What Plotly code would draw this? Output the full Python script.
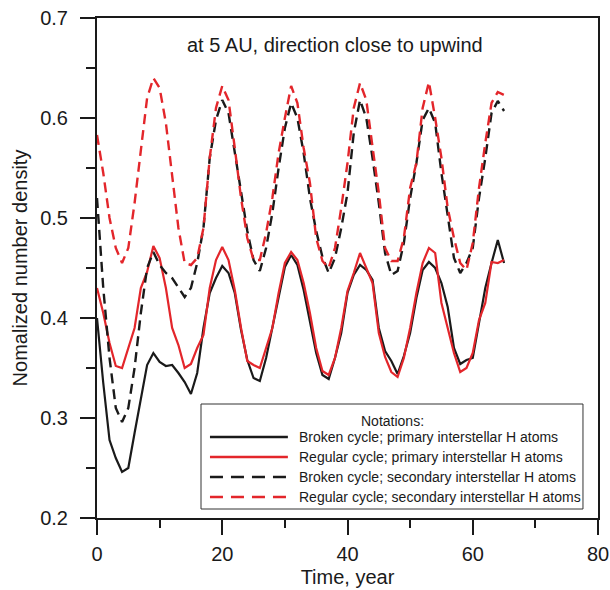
import plotly.graph_objects as go

years = list(range(0, 66))

broken_primary = [0.400, 0.335, 0.278, 0.260, 0.246, 0.250, 0.285, 0.320, 0.353, 0.365,
                  0.356, 0.352, 0.353, 0.345, 0.336, 0.324, 0.345, 0.390, 0.425, 0.440,
                  0.452, 0.445, 0.425, 0.388, 0.358, 0.340, 0.337, 0.360, 0.390, 0.420,
                  0.451, 0.463, 0.453, 0.428, 0.398, 0.365, 0.343, 0.339, 0.360, 0.385,
                  0.425, 0.443, 0.453, 0.448, 0.438, 0.390, 0.367, 0.357, 0.344, 0.362,
                  0.385, 0.420, 0.448, 0.456, 0.450, 0.435, 0.411, 0.370, 0.354, 0.358,
                  0.360, 0.395, 0.430, 0.455, 0.478, 0.455]

regular_primary = [0.430, 0.405, 0.375, 0.352, 0.350, 0.370, 0.390, 0.430, 0.446, 0.472,
                   0.460, 0.430, 0.390, 0.373, 0.350, 0.354, 0.370, 0.383, 0.430, 0.458,
                   0.471, 0.458, 0.428, 0.390, 0.357, 0.353, 0.350, 0.370, 0.390, 0.425,
                   0.455, 0.466, 0.458, 0.435, 0.405, 0.370, 0.347, 0.343, 0.360, 0.390,
                   0.427, 0.445, 0.465, 0.450, 0.435, 0.385, 0.361, 0.346, 0.341, 0.360,
                   0.390, 0.425, 0.455, 0.470, 0.465, 0.415, 0.390, 0.365, 0.346, 0.350,
                   0.365, 0.398, 0.415, 0.456, 0.455, 0.458]

broken_secondary = [0.520, 0.430, 0.360, 0.310, 0.296, 0.310, 0.350, 0.405, 0.450, 0.466,
                    0.453, 0.445, 0.440, 0.430, 0.421, 0.430, 0.455, 0.490, 0.560, 0.598,
                    0.618, 0.605, 0.565, 0.525, 0.487, 0.458, 0.447, 0.470, 0.505, 0.550,
                    0.590, 0.615, 0.600, 0.565, 0.520, 0.487, 0.461, 0.445, 0.460, 0.490,
                    0.525, 0.585, 0.618, 0.600, 0.560, 0.515, 0.465, 0.443, 0.447, 0.475,
                    0.520, 0.555, 0.598, 0.610, 0.595, 0.545, 0.500, 0.460, 0.445, 0.455,
                    0.470, 0.520, 0.560, 0.605, 0.617, 0.607]

regular_secondary = [0.583, 0.545, 0.500, 0.470, 0.455, 0.470, 0.515, 0.570, 0.620, 0.640,
                     0.630, 0.595, 0.545, 0.490, 0.455, 0.453, 0.460, 0.490, 0.560, 0.610,
                     0.632, 0.618, 0.570, 0.520, 0.480, 0.458, 0.458, 0.485, 0.520, 0.565,
                     0.600, 0.632, 0.615, 0.570, 0.535, 0.480, 0.457, 0.450, 0.470, 0.510,
                     0.555, 0.610, 0.635, 0.618, 0.571, 0.525, 0.470, 0.457, 0.457, 0.480,
                     0.530, 0.555, 0.610, 0.636, 0.600, 0.560, 0.510, 0.480, 0.455, 0.448,
                     0.475, 0.530, 0.575, 0.615, 0.626, 0.623]

series_names = ["Broken cycle; primary interstellar H atoms",
                "Regular cycle; primary interstellar H atoms",
                "Broken cycle; secondary interstellar H atoms",
                "Regular cycle; secondary interstellar H atoms"]

BLACK = "#1a1a1a"
RED = "#e3262b"
DASH = "10px,6px"
FONT = "Liberation Sans, Arial, sans-serif"

styles = [dict(color=BLACK, width=2.2, dash="solid"),
          dict(color=RED, width=2.2, dash="solid"),
          dict(color=BLACK, width=2.4, dash=DASH),
          dict(color=RED, width=2.4, dash=DASH)]

fig = go.Figure()
for name, vals, st in zip(series_names,
                          [broken_primary, regular_primary, broken_secondary, regular_secondary],
                          styles):
    fig.add_trace(go.Scatter(x=years, y=vals, mode="lines", name=name, line=st,
                             showlegend=False))

# manual legend (box, sample lines, labels)
lx0, lx1 = 0.2076, 0.970
ly0, ly1 = 0.018, 0.228
fig.add_shape(type="rect", xref="paper", yref="paper", x0=lx0, x1=lx1, y0=ly0, y1=ly1,
              line=dict(color="#333333", width=1), fillcolor="white", layer="above")
row_y = [0.162, 0.122, 0.082, 0.042]
for name, st, yy in zip(series_names, styles, row_y):
    fig.add_shape(type="line", xref="paper", yref="paper", x0=0.2255, x1=0.381, y0=yy, y1=yy,
                  line=dict(color=st["color"], width=2.4,
                            dash="solid" if st["dash"] == "solid" else "13px,8px"),
                  layer="above")
    fig.add_annotation(xref="paper", yref="paper", x=0.399, y=yy, text=name, showarrow=False,
                       xanchor="left", yanchor="middle",
                       font=dict(family=FONT, size=14, color="#1a1a1a"))
fig.add_annotation(xref="paper", yref="paper", x=0.589, y=0.194, text="Notations:",
                   showarrow=False, xanchor="center", yanchor="middle",
                   font=dict(family=FONT, size=14, color="#1a1a1a"))

fig.add_annotation(xref="paper", yref="paper", x=0.475, y=0.946,
                   text="at 5 AU, direction close to upwind", showarrow=False,
                   xanchor="center", yanchor="middle",
                   font=dict(family=FONT, size=20, color="#1a1a1a"))

axis_common = dict(showline=True, linecolor=BLACK, linewidth=2, mirror=True,
                   ticks="outside", ticklen=15, tickwidth=2, tickcolor=BLACK,
                   showgrid=False, zeroline=False, ticklabeloverflow="allow",
                   tickfont=dict(family=FONT, size=20, color="#1a1a1a"))

fig.update_xaxes(range=[0, 80], dtick=20, tick0=0, ticklabelstandoff=2,
                 minor=dict(dtick=10, ticklen=8, tickwidth=2, tickcolor=BLACK, ticks="outside"),
                 title=dict(text="Time, year", font=dict(family=FONT, size=20, color="#1a1a1a"),
                            standoff=6),
                 **axis_common)
fig.update_yaxes(range=[0.2, 0.7], dtick=0.1, tick0=0.2, tickformat=".1f", ticklabelstandoff=8,
                 minor=dict(dtick=0.05, ticklen=9, tickwidth=2, tickcolor=BLACK, ticks="outside"),
                 title=dict(text="Nomalized number density",
                            font=dict(family=FONT, size=20, color="#1a1a1a"), standoff=7),
                 **axis_common)

fig.update_layout(width=610, height=590, autosize=False,
                  margin=dict(l=97, r=12, t=18, b=72, autoexpand=False),
                  paper_bgcolor="white", plot_bgcolor="white", showlegend=False)

fig.write_html("out.html", config={"displayModeBar": False},
               post_script="document.body.style.margin='0px';document.body.style.overflow='hidden';")
